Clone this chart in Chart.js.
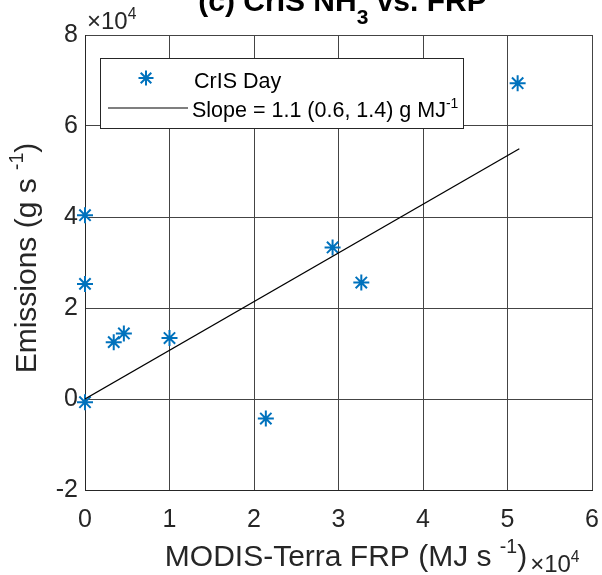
<!DOCTYPE html>
<html>
<head>
<meta charset="utf-8">
<script src="https://cdn.jsdelivr.net/npm/chart.js@4"></script>
<style>
  html, body { margin: 0; padding: 0; background: #fff; }
  #wrap { width: 602px; height: 575px; }
</style>
</head>
<body>
<div id="wrap"><canvas id="c" width="602" height="575"></canvas></div>
<script>
// data (units of 1e4)
const frp = [0, 0, 0, 0.34, 0.46, 1.0, 2.14, 2.93, 3.27, 5.12];
const emis = [4.04, 2.53, -0.07, 1.25, 1.44, 1.34, -0.43, 3.33, 2.56, 6.94];
const fitX = [0, 5.14];
const fitY = [0, 5.5];
const xTicks = [0, 1, 2, 3, 4, 5, 6];
const yTicks = [-2, 0, 2, 4, 6, 8];

const FONT = "'Liberation Sans', Arial, sans-serif";
const BLUE = "#0072BD";

// text with a superscript part
function supText(ctx, parts, x, y, size, align) {
  let w = 0;
  parts.forEach(p => {
    ctx.font = (p.sup ? size * 0.65 : size) + "px " + FONT;
    w += ctx.measureText(p.t).width;
  });
  let cx = align === "center" ? x - w / 2 : x;
  parts.forEach(p => {
    let s = p.sup ? size * 0.65 : size;
    ctx.font = s + "px " + FONT;
    ctx.fillText(p.t, cx, p.sup ? y - size * 0.42 : y);
    cx += ctx.measureText(p.t).width;
  });
  return cx;
}

function star(ctx, x, y, r) {
  ctx.beginPath();
  for (let i = 0; i < 4; i++) {
    let a = i * Math.PI / 4;
    ctx.moveTo(x - r * Math.cos(a), y - r * Math.sin(a));
    ctx.lineTo(x + r * Math.cos(a), y + r * Math.sin(a));
  }
  ctx.stroke();
}

const decor = {
  id: "decor",
  afterDraw(chart) {
    const ctx = chart.ctx;
    const a = chart.chartArea;
    ctx.save();
    ctx.fillStyle = "#262626";
    ctx.textBaseline = "alphabetic";
    ctx.textAlign = "left";

    // title (clipped at top like the original)
    ctx.font = "bold 30px " + FONT;
    let t1 = "(c) CrIS NH", t2 = "3", t3 = " vs. FRP";
    let w1 = ctx.measureText(t1).width, w3 = ctx.measureText(t3).width;
    ctx.font = "bold 21px " + FONT;
    let w2 = ctx.measureText(t2).width;
    let tx = (a.left + a.right) / 2 - (w1 + w2 + w3) / 2 + 4;
    ctx.font = "bold 30px " + FONT;
    ctx.fillStyle = "#000";
    ctx.fillText(t1, tx, 11);
    ctx.font = "bold 21px " + FONT;
    ctx.fillText(t2, tx + w1, 24);
    ctx.font = "bold 30px " + FONT;
    ctx.fillText(t3, tx + w1 + w2, 11);
    ctx.fillStyle = "#262626";

    // exponent label at top of y axis
    supText(ctx, [{t: "\u00d710"}, {t: "4", sup: true}], a.left + 2, 29, 24, "left");

    // x axis title with its exponent
    let end = supText(ctx, [{t: "MODIS-Terra FRP (MJ s "}, {t: "-1", sup: true}, {t: ")"}], 346, 566, 30, "center");
    supText(ctx, [{t: "\u00d710"}, {t: "4", sup: true}], end + 3, 572, 24, "left");

    // y axis title
    ctx.save();
    ctx.translate(36, 258);
    ctx.rotate(-Math.PI / 2);
    supText(ctx, [{t: "Emissions (g s "}, {t: "-1", sup: true}, {t: ")"}], 0, 0, 30, "center");
    ctx.restore();

    // legend
    ctx.fillStyle = "#fff";
    ctx.fillRect(100, 58, 363, 70);
    ctx.strokeStyle = "#262626";
    ctx.lineWidth = 1;
    ctx.strokeRect(100.5, 58.5, 363, 70);
    ctx.strokeStyle = BLUE;
    ctx.lineWidth = 2;
    star(ctx, 146, 78, 7.5);
    ctx.strokeStyle = "#000";
    ctx.lineWidth = 1.2;
    ctx.beginPath();
    ctx.moveTo(108, 108);
    ctx.lineTo(188, 108);
    ctx.stroke();
    ctx.fillStyle = "#000";
    supText(ctx, [{t: "CrIS Day"}], 194, 88, 21.5, "left");
    supText(ctx, [{t: "Slope = 1.1 (0.6, 1.4) g MJ"}, {t: "-1", sup: true}], 192, 117, 21.5, "left");
    ctx.restore();
  }
};

new Chart(document.getElementById("c"), {
  type: "scatter",
  data: {
    datasets: [
      {
        label: "Slope",
        type: "line",
        data: fitX.map((x, i) => ({x: x, y: fitY[i]})),
        borderColor: "#000",
        borderWidth: 1.3,
        pointRadius: 0,
        fill: false
      },
      {
        label: "CrIS Day",
        data: frp.map((x, i) => ({x: x, y: emis[i]})),
        clip: false,
        pointStyle: "star",
        pointRadius: 8,
        borderColor: BLUE,
        backgroundColor: BLUE,
        pointBorderWidth: 2
      }
    ]
  },
  options: {
    responsive: false,
    animation: false,
    devicePixelRatio: 1,
    layout: { padding: { left: 0, right: 9, top: 35, bottom: 0 } },
    plugins: { legend: { display: false }, tooltip: { enabled: false } },
    scales: {
      x: {
        type: "linear",
        min: 0, max: 6,
        afterFit(s) { s.height = 85; s.paddingLeft = 0; s.paddingRight = 0; },
        afterBuildTicks(s) { s.ticks = xTicks.map(v => ({value: v})); },
        grid: { color: "#444", lineWidth: 1, drawTicks: false },
        border: { color: "#262626", width: 1 },
        ticks: { color: "#262626", font: { family: FONT, size: 25 }, padding: 15, maxRotation: 0 }
      },
      y: {
        type: "linear",
        min: -2, max: 8,
        afterFit(s) { s.width = 85; s.paddingTop = 0; s.paddingBottom = 0; },
        afterBuildTicks(s) { s.ticks = yTicks.map(v => ({value: v})); },
        grid: { color: "#444", lineWidth: 1, drawTicks: false },
        border: { color: "#262626", width: 1 },
        ticks: { color: "#262626", font: { family: FONT, size: 25 }, padding: 7 }
      }
    }
  },
  plugins: [decor]
});
</script>
</body>
</html>
